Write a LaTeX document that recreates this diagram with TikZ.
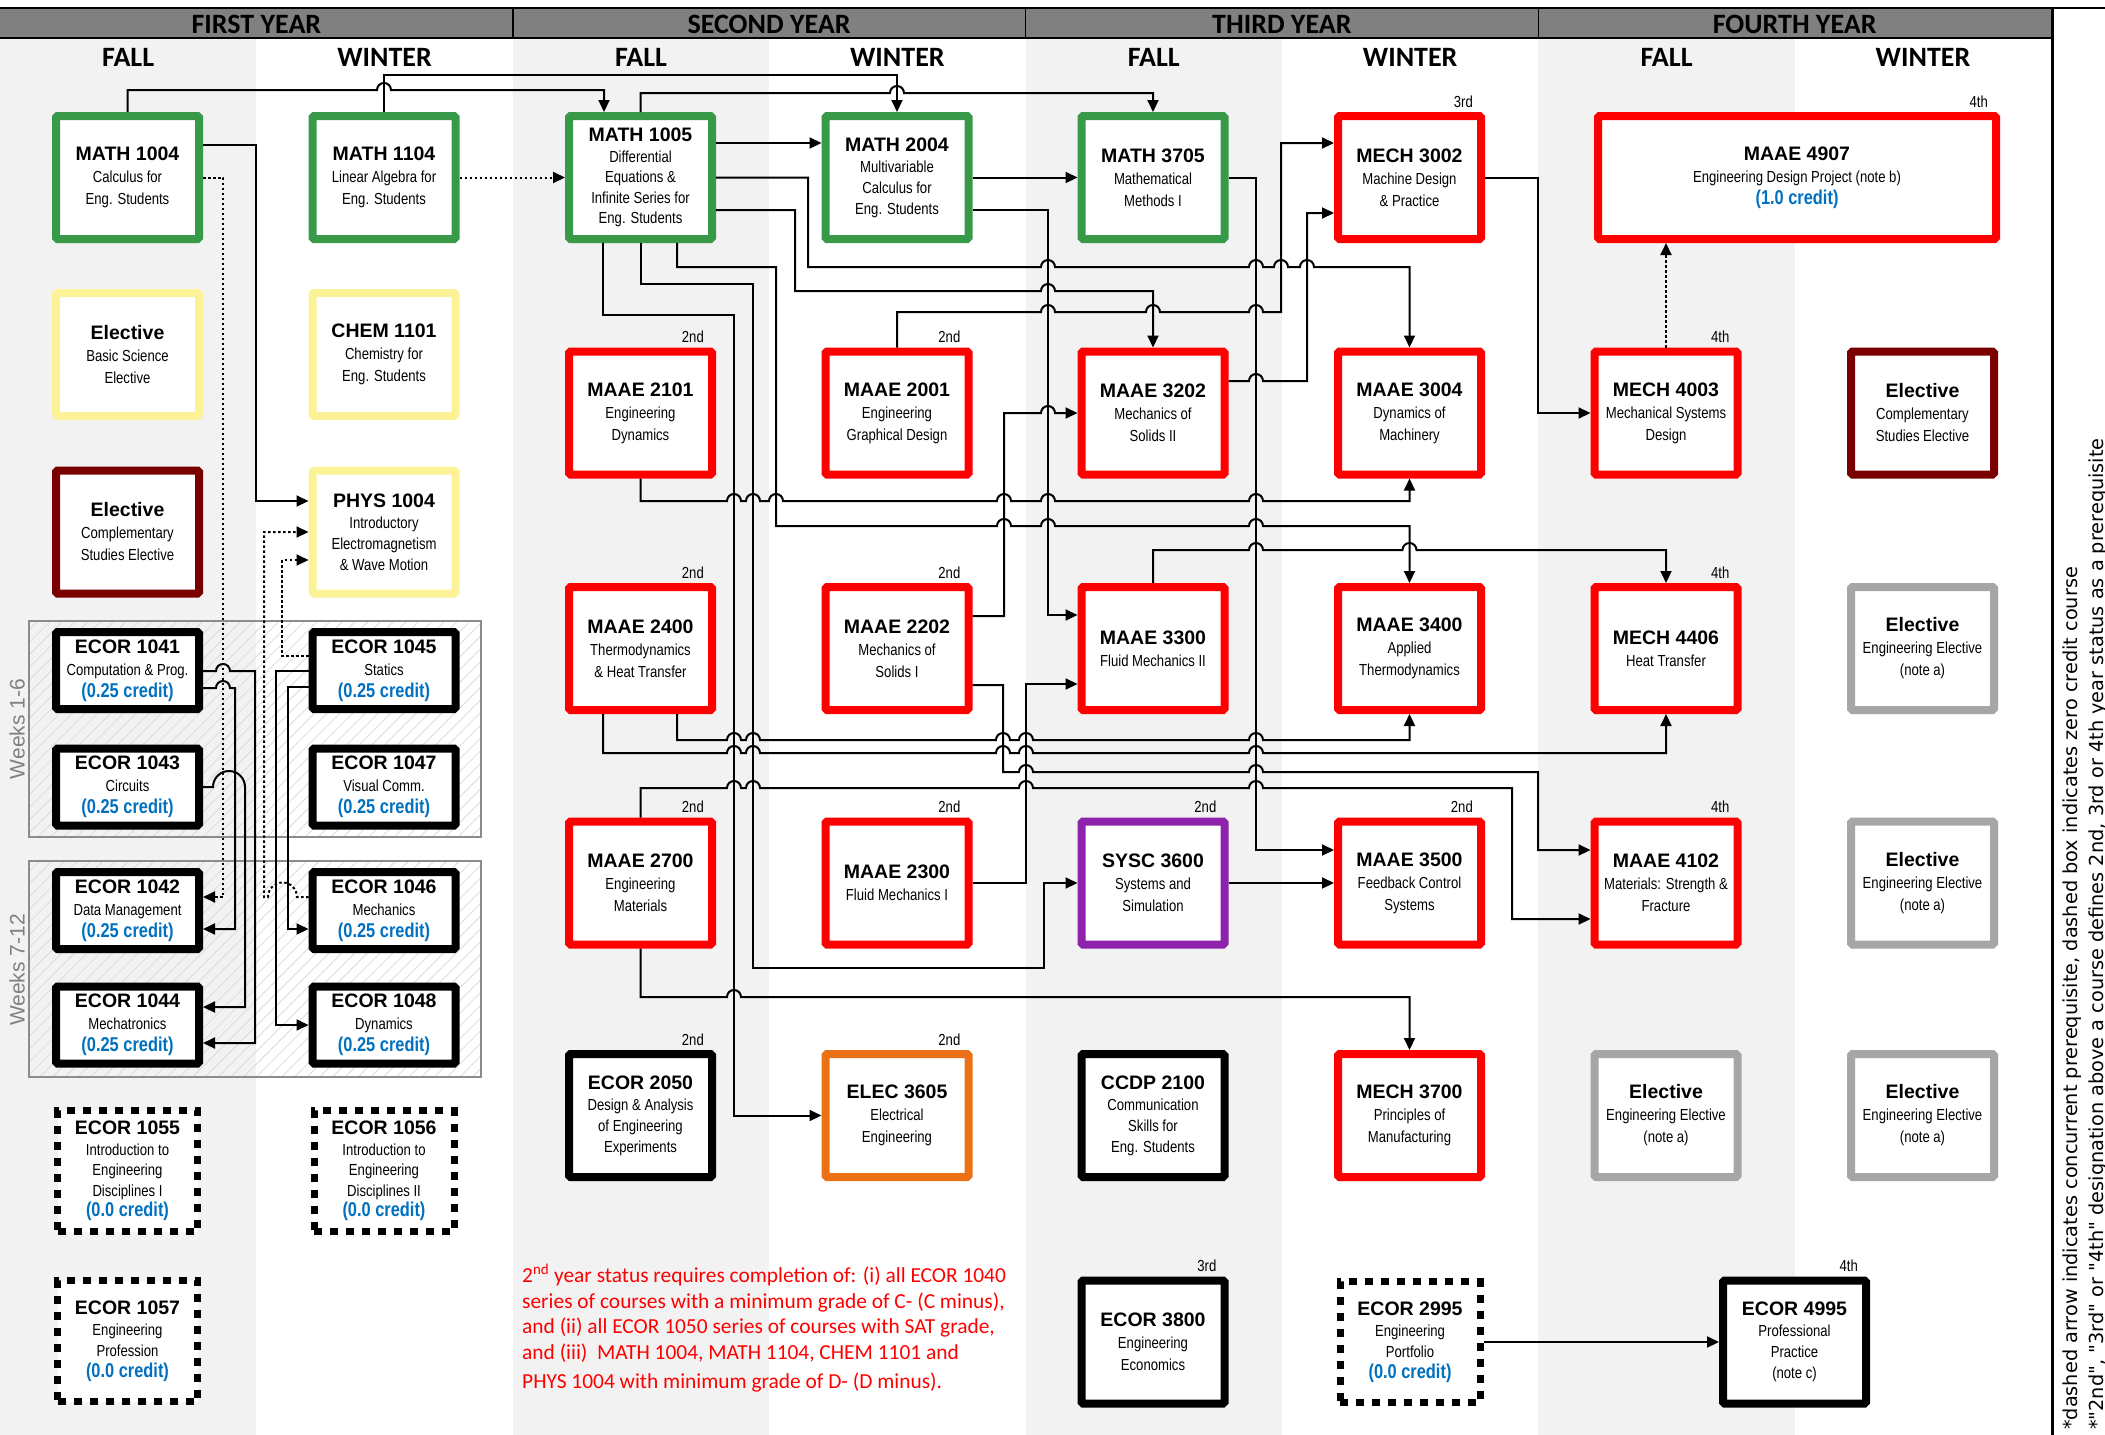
\documentclass[tikz,border=0pt]{standalone}
\usepackage{fontspec}
\setmainfont{Liberation Sans}
\newfontfamily\narrowf[FakeStretch=0.82]{Liberation Sans}
\newfontfamily\calib{Carlito}
\newfontfamily\dejavu{DejaVu Sans}
\usetikzlibrary{arrows.meta,patterns.meta}
\definecolor{cgreen}{RGB}{56,153,73}
\definecolor{cred}{RGB}{255,0,0}
\definecolor{cyellow}{RGB}{252,243,153}
\definecolor{cmaroon}{RGB}{122,0,0}
\definecolor{cgray}{RGB}{166,166,166}
\definecolor{cpurple}{RGB}{140,35,170}
\definecolor{corange}{RGB}{236,113,22}
\definecolor{cblue}{RGB}{0,112,192}
\definecolor{colbg}{RGB}{242,242,242}
\definecolor{hdr}{RGB}{128,128,128}
\newcommand\cc[1]{{\rmfamily\bfseries\fontsize{19.5}{22}\selectfont #1}}
\newcommand\credit[1]{{\bfseries\fontsize{20}{22}\selectfont\color{cblue}#1}}
\tikzset{
 course/.style={draw, line width=8pt, fill=white, minimum width=143pt, minimum height=123pt, inner sep=0pt, align=center, rounded corners=1.5pt, font=\narrowf\fontsize{16}{22}\selectfont},
 lfour/.style={font=\narrowf\fontsize{16}{21}\selectfont},
 lfive/.style={font=\narrowf\fontsize{16}{20.5}\selectfont},
 ecor/.style={course, draw=black, minimum height=77pt},
 zbox/.style={course, draw=black, line width=7pt, dash pattern=on 8pt off 8pt, minimum width=140pt, minimum height=121pt, rounded corners=0pt},
 conn/.style={line width=2pt},
 arr/.style={-{Triangle[length=12pt,width=11pt]}},
 dotc/.style={dash pattern=on 2.5pt off 2.5pt},
 hopr/.style={insert path={arc[start angle=180,end angle=0,radius=7pt]}},
 hopbig/.style={insert path={arc[start angle=180,end angle=0,radius=16pt]}},
 hopbl/.style={insert path={arc[start angle=0,end angle=180,radius=14.5pt]}},
 yr/.style={font=\narrowf\fontsize{16}{18}\selectfont, inner sep=0pt, anchor=base east},
 yearlab/.style={font=\calib\bfseries\fontsize{28}{28}\selectfont, inner sep=0pt},
 semlab/.style={font=\calib\bfseries\fontsize{28}{28}\selectfont, inner sep=0pt},
 notel/.style={font=\calib\fontsize{21.4}{24}\selectfont, text=red, inner sep=0pt, anchor=base west},
 sidenote/.style={rotate=90, anchor=base west, inner sep=0pt, font=\dejavu\fontsize{19.3}{20}\selectfont},
 grp/.style={draw=black!45, line width=2pt, pattern={Lines[angle=45,distance=9pt,line width=0.8pt]}, pattern color=black!14},
}
\begin{document}
\begin{tikzpicture}[x=1pt,y=-1pt]
\useasboundingbox (0,0) rectangle (2105,1435);
\fill[white] (0,0) rectangle (2105,1435);
\foreach \i in {0,2,4,6} \fill[colbg] ({256.4*\i},38) rectangle ({256.4*(\i+1)},1435);
% header
\fill[hdr] (0,9) rectangle (2052,38);
\draw[line width=1.5pt] (0,38) -- (2052,38);
\draw[line width=2.5pt] (0,8) -- (2105,8);
\foreach \x in {512.8,1025.5,1538.3} \draw[line width=1.5pt] (\x,9) -- (\x,38);
\draw[line width=3pt] (2052,8) -- (2052,1435);
\node[yearlab] (y1) at (256.4,24) {FIRST YEAR};
\node[yearlab] (y2) at (769.1,24) {SECOND YEAR};
\node[yearlab] (y3) at (1281.9,24) {THIRD YEAR};
\node[yearlab] (y4) at (1794.7,24) {FOURTH YEAR};
\node[semlab] (s1) at (128.2,57) {FALL};
\node[semlab] (s2) at (384.6,57) {WINTER};
\node[semlab] (s3) at (641,57) {FALL};
\node[semlab] (s4) at (897.4,57) {WINTER};
\node[semlab] (s5) at (1153.8,57) {FALL};
\node[semlab] (s6) at (1410.2,57) {WINTER};
\node[semlab] (s7) at (1666.6,57) {FALL};
\node[semlab] (s8) at (1923,57) {WINTER};
% hatched groups
\draw[grp] (29,621) rectangle (481,837);
\draw[grp] (29,861) rectangle (481,1077);
\node[rotate=90, text=black!50, font=\fontsize{21}{21}\selectfont, inner sep=0pt] (wk1) at (17,729) {Weeks 1-6};
\node[rotate=90, text=black!50, font=\fontsize{21}{21}\selectfont, inner sep=0pt] (wk2) at (17,970) {Weeks 7-12};
% column 1
\node[course, draw=cgreen] (m1004) at (127.5,177.5) {\cc{MATH 1004}\\Calculus for\\Eng. Students};
\node[course, draw=cyellow] (elbs) at (127.5,354.5) {\cc{Elective}\\Basic Science\\Elective};
\node[course, draw=cmaroon] (elcs1) at (127.5,532) {\cc{Elective}\\Complementary\\Studies Elective};
\node[ecor] (e1041) at (127.5,670.5) {\cc{ECOR 1041}\\Computation \& Prog.\\\credit{(0.25 credit)}};
\node[ecor] (e1043) at (127.5,787) {\cc{ECOR 1043}\\Circuits\\\credit{(0.25 credit)}};
\node[ecor] (e1042) at (127.5,910.5) {\cc{ECOR 1042}\\Data Management\\\credit{(0.25 credit)}};
\node[ecor] (e1044) at (127.5,1025) {\cc{ECOR 1044}\\Mechatronics\\\credit{(0.25 credit)}};
\node[zbox, lfive] (e1055) at (127.5,1171) {\cc{ECOR 1055}\\Introduction to\\Engineering\\Disciplines I\\\credit{(0.0 credit)}};
\node[zbox, lfour] (e1057) at (127.5,1341) {\cc{ECOR 1057}\\Engineering\\Profession\\\credit{(0.0 credit)}};
% column 2
\node[course, draw=cgreen] (m1104) at (384,177.5) {\cc{MATH 1104}\\Linear Algebra for\\Eng. Students};
\node[course, draw=cyellow] (ch1101) at (384,354.5) {\cc{CHEM 1101}\\Chemistry for\\Eng. Students};
\node[course, draw=cyellow, lfour] (ph1004) at (384,532) {\cc{PHYS 1004}\\Introductory\\Electromagnetism\\\& Wave Motion};
\node[ecor] (e1045) at (384,670.5) {\cc{ECOR 1045}\\Statics\\\credit{(0.25 credit)}};
\node[ecor] (e1047) at (384,787) {\cc{ECOR 1047}\\Visual Comm.\\\credit{(0.25 credit)}};
\node[ecor] (e1046) at (384,910.5) {\cc{ECOR 1046}\\Mechanics\\\credit{(0.25 credit)}};
\node[ecor] (e1048) at (384,1025) {\cc{ECOR 1048}\\Dynamics\\\credit{(0.25 credit)}};
\node[zbox, lfive] (e1056) at (384,1171) {\cc{ECOR 1056}\\Introduction to\\Engineering\\Disciplines II\\\credit{(0.0 credit)}};
% column 3
\node[course, draw=cgreen, lfive] (m1005) at (640.5,177.5) {\cc{MATH 1005}\\Differential\\Equations \&\\Infinite Series for\\Eng. Students};
\node[course, draw=cred] (a2101) at (640.5,413) {\cc{MAAE 2101}\\Engineering\\Dynamics};
\node[course, draw=cred] (a2400) at (640.5,648.5) {\cc{MAAE 2400}\\Thermodynamics\\\& Heat Transfer};
\node[course, draw=cred] (a2700) at (640.5,883) {\cc{MAAE 2700}\\Engineering\\Materials};
\node[course, draw=black, lfour] (e2050) at (640.5,1115.5) {\cc{ECOR 2050}\\Design \& Analysis\\of Engineering\\Experiments};
% column 4
\node[course, draw=cgreen, lfour] (m2004) at (897,177.5) {\cc{MATH 2004}\\Multivariable\\Calculus for\\Eng. Students};
\node[course, draw=cred] (a2001) at (897,413) {\cc{MAAE 2001}\\Engineering\\Graphical Design};
\node[course, draw=cred] (a2202) at (897,648.5) {\cc{MAAE 2202}\\Mechanics of\\Solids I};
\node[course, draw=cred] (a2300) at (897,883) {\cc{MAAE 2300}\\Fluid Mechanics I};
\node[course, draw=corange] (el3605) at (897,1115.5) {\cc{ELEC 3605}\\Electrical\\Engineering};
% column 5
\node[course, draw=cgreen] (m3705) at (1153,177.5) {\cc{MATH 3705}\\Mathematical\\Methods I};
\node[course, draw=cred] (a3202) at (1153,413) {\cc{MAAE 3202}\\Mechanics of\\Solids II};
\node[course, draw=cred] (a3300) at (1153,648.5) {\cc{MAAE 3300}\\Fluid Mechanics II};
\node[course, draw=cpurple] (s3600) at (1153,883) {\cc{SYSC 3600}\\Systems and\\Simulation};
\node[course, draw=black, lfour] (c2100) at (1153,1115.5) {\cc{CCDP 2100}\\Communication\\Skills for\\Eng. Students};
\node[course, draw=black] (e3800) at (1153,1342) {\cc{ECOR 3800}\\Engineering\\Economics};
% column 6
\node[course, draw=cred] (mc3002) at (1409.5,177.5) {\cc{MECH 3002}\\Machine Design\\\& Practice};
\node[course, draw=cred] (a3004) at (1409.5,413) {\cc{MAAE 3004}\\Dynamics of\\Machinery};
\node[course, draw=cred] (a3400) at (1409.5,648.5) {\cc{MAAE 3400}\\Applied\\Thermodynamics};
\node[course, draw=cred] (a3500) at (1409.5,883) {\cc{MAAE 3500}\\Feedback Control\\Systems};
\node[course, draw=cred] (mc3700) at (1409.5,1115.5) {\cc{MECH 3700}\\Principles of\\Manufacturing};
\node[zbox, lfour] (e2995) at (1410,1342) {\cc{ECOR 2995}\\Engineering\\Portfolio\\\credit{(0.0 credit)}};
% column 7-8
\node[course, draw=cred, minimum width=398pt] (a4907) at (1797,177.5) {\cc{MAAE 4907}\\Engineering Design Project (note b)\\\credit{(1.0 credit)}};
\node[course, draw=cred] (mc4003) at (1666,413) {\cc{MECH 4003}\\Mechanical Systems\\Design};
\node[course, draw=cred] (mc4406) at (1666,648.5) {\cc{MECH 4406}\\Heat Transfer};
\node[course, draw=cred] (a4102) at (1666,883) {\cc{MAAE 4102}\\Materials: Strength \&\\Fracture};
\node[course, draw=cgray] (ee1) at (1666,1115.5) {\cc{Elective}\\Engineering Elective\\(note a)};
\node[course, draw=black, lfour] (e4995) at (1794.5,1342) {\cc{ECOR 4995}\\Professional\\Practice\\(note c)};
\node[course, draw=cmaroon] (elcs2) at (1922.5,413) {\cc{Elective}\\Complementary\\Studies Elective};
\node[course, draw=cgray] (ee2) at (1922.5,648.5) {\cc{Elective}\\Engineering Elective\\(note a)};
\node[course, draw=cgray] (ee3) at (1922.5,883) {\cc{Elective}\\Engineering Elective\\(note a)};
\node[course, draw=cgray] (ee4) at (1922.5,1115.5) {\cc{Elective}\\Engineering Elective\\(note a)};
% year-status labels
\foreach \n/\t in {a2101/2nd,a2001/2nd,a2400/2nd,a2202/2nd,a2700/2nd,a2300/2nd,s3600/2nd,a3500/2nd,e2050/2nd,el3605/2nd,mc3002/3rd,e3800/3rd,a4907/4th,mc4003/4th,mc4406/4th,a4102/4th,e4995/4th}
  \node[yr] (lab-\n) at ([xshift=-12pt,yshift=5pt]\n.north east) {\t};
% connectors: first year
\draw[conn,arr] (m1004.north) -- (127.5,90) -- (377,90) [hopr] -- (604,90) -- (m1005.north -| 604,0);
\draw[conn,arr] (m1104.north) -- (384,75) -- (897,75) -- (m2004.north);
\draw[conn,arr] (m1005.north) -- (640.5,93) -- (890,93) [hopr] -- (1153,93) -- (m3705.north);
\draw[conn,dotc,arr] (m1104.east) -- (m1005.west);
\draw[conn,arr] (m1004.east |- 0,145) -- (256,145) -- (256,501) -- (ph1004.west |- 0,501);
\draw[conn,dotc,arr] (m1004.east) -- (223,177.5) -- (223,897) -- (e1042.east |- 0,897);
\draw[conn,dotc,arr] (e1045.west |- 0,656) -- (282,656) -- (282,560) -- (ph1004.west |- 0,560);
\draw[conn,dotc,arr] (e1046.west |- 0,897) -- (297,897) [hopbl] -- (264,897) -- (264,532) -- (ph1004.west |- 0,532);
\draw[conn,arr] (e1041.east |- 0,671) -- (216,671) [hopr] -- (255,671) -- (255,1043) -- (e1044.east |- 0,1043);
\draw[conn,arr] (e1041.east |- 0,688) -- (216,688) [hopr] -- (235,688) -- (235,929) -- (e1042.east |- 0,929);
\draw[conn,arr] (e1043.east) -- (213,787) [hopbig] -- (245,1007) -- (e1044.east |- 0,1007);
\draw[conn,arr] (e1045.west |- 0,671) -- (276,671) -- (276,1025) -- (e1048.west);
\draw[conn,arr] (e1045.west |- 0,687) -- (288,687) -- (288,929) -- (e1046.west |- 0,929);
% connectors: later years
\draw[conn,arr] (m1005.east |- 0,143) -- (m2004.west |- 0,143);
\draw[conn,arr] (m1005.east) -- (808,177.5) -- (808,267) -- (1041,267) [hopr] -- (1249,267) [hopr] -- (1274,267) [hopr] -- (1300,267) [hopr] -- (1409.5,267) -- (a3004.north);
\draw[conn,arr] (m1005.east |- 0,210) -- (795,210) -- (795,291) -- (1041,291) [hopr] -- (1153,291) -- (a3202.north);
\draw[conn,arr] (m1005.south -| 603,0) -- (603,315) -- (734,315) -- (734,1115.5) -- (el3605.west);
\draw[conn,arr] (m1005.south) -- (640.5,284) -- (753,284) -- (753,968) -- (1044,968) -- (1044,883) -- (s3600.west);
\draw[conn,arr] (m1005.south -| 677,0) -- (677,267) -- (776,267) -- (776,526) -- (997,526) [hopr] -- (1041,526) [hopr] -- (1249,526) [hopr] -- (1409.5,526) -- (a3400.north);
\draw[conn,arr] (m2004.east) -- (m3705.west);
\draw[conn,arr] (m2004.east |- 0,210) -- (1048,210) -- (1048,615) -- (a3300.west |- 0,615);
\draw[conn,arr] (a2001.north) -- (897,312) -- (1041,312) [hopr] -- (1146,312) [hopr] -- (1249,312) [hopr] -- (1281,312) -- (1281,143) -- (mc3002.west |- 0,143);
\draw[conn,arr] (a3202.east |- 0,381) -- (1249,381) [hopr] -- (1307,381) -- (1307,213) -- (mc3002.west |- 0,213);
\draw[conn,arr] (m3705.east) -- (1256,177.5) -- (1256,850) -- (a3500.west |- 0,850);
\draw[conn,arr] (mc3002.east) -- (1538,177.5) -- (1538,413) -- (mc4003.west);
\draw[conn,dotc,arr] (mc4003.north) -- (a4907.south -| mc4003.north);
\draw[conn,arr] (a2101.south) -- (640.5,501) -- (727,501) [hopr] -- (746,501) [hopr] -- (769,501) [hopr] -- (997,501) [hopr] -- (1041,501) [hopr] -- (1249,501) [hopr] -- (1409.5,501) -- (a3004.south);
\draw[conn,arr] (a2202.east |- 0,616) -- (1004,616) -- (1004,413) -- (1041,413) [hopr] -- (a3202.west);
\draw[conn,arr] (a2202.east |- 0,685) -- (1003,685) -- (1003,772) -- (1019,772) [hopr] -- (1249,772) [hopr] -- (1538,772) -- (1538,850) -- (a4102.west |- 0,850);
\draw[conn,arr] (a2300.east) -- (1026,883) -- (1026,684) -- (a3300.west |- 0,684);
\draw[conn,arr] (a3300.north) -- (1153,550) -- (1249,550) [hopr] -- (1402.5,550) [hopr] -- (1666,550) -- (mc4406.north);
\draw[conn,arr] (a2400.south -| 677,0) -- (677,740) -- (727,740) [hopr] -- (746,740) [hopr] -- (996,740) [hopr] -- (1019,740) [hopr] -- (1249,740) [hopr] -- (1409.5,740) -- (a3400.south);
\draw[conn,arr] (a2400.south -| 603,0) -- (603,753) -- (727,753) [hopr] -- (746,753) [hopr] -- (996,753) [hopr] -- (1019,753) [hopr] -- (1249,753) [hopr] -- (1666,753) -- (mc4406.south);
\draw[conn,arr] (a2700.north) -- (640.5,788) -- (727,788) [hopr] -- (746,788) [hopr] -- (1019,788) [hopr] -- (1249,788) [hopr] -- (1512,788) -- (1512,919) -- (a4102.west |- 0,919);
\draw[conn,arr] (a2700.south) -- (640.5,997) -- (727,997) [hopr] -- (1409.5,997) -- (mc3700.north);
\draw[conn,arr] (s3600.east) -- (a3500.west);
\draw[conn,arr] (e2995.east) -- (e4995.west);
% note
\node[notel] (n1) at (522,1282) {2\textsuperscript{nd} year status requires completion of: (i) all ECOR 1040};
\node[notel] (n2) at (522,1308) {series of courses with a minimum grade of C- (C minus),};
\node[notel] (n3) at (522,1333) {and (ii) all ECOR 1050 series of courses with SAT grade,};
\node[notel] (n4) at (522,1359) {and (iii)\ \ MATH 1004, MATH 1104, CHEM 1101 and};
\node[notel] (n5) at (522,1388) {PHYS 1004 with minimum grade of D- (D minus).};
% side notes
\node[sidenote] (sn1) at (2077,1430) {*dashed arrow indicates concurrent prerequisite, dashed box indicates zero credit course};
\node[sidenote] (sn2) at (2103,1430) {*"2nd", "3rd" or "4th" designation above a course defines 2nd, 3rd or 4th year status as a prerequisite};
\end{tikzpicture}
\end{document}
